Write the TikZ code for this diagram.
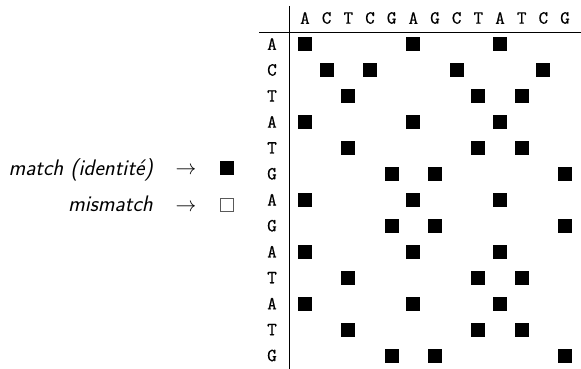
\documentclass[tikz,border=0pt]{standalone}
\usepackage{fontspec}
\newfontfamily\seqfont{Latin Modern Mono}[FakeBold=0.6]
\begin{document}
\begin{tikzpicture}[x=1pt,y=-1pt,
  seq/.style={font=\fontsize{18.5}{20}\selectfont\seqfont, inner sep=0pt},
  hit/.style={fill=black, minimum size=14pt, inner sep=0pt},
  nohit/.style={draw=black!65, line width=0.9pt, minimum size=13pt, inner sep=0pt},
  legendtext/.style={font=\fontsize{22.5}{25}\selectfont\sffamily\itshape, inner sep=0pt, anchor=base east},
  legendarrow/.style={font=\fontsize{20.7}{25}\selectfont, inner sep=0pt, anchor=base},
  rule/.style={line width=0.8pt}]
\useasboundingbox (0,0) rectangle (581,369);
% header sequence
\foreach \b [count=\i] in {A,C,T,C,G,A,G,C,T,A,T,C,G}
  \node[seq] (h\i) at ({305+(\i-1)*21.67},18) {\b};
% row sequence
\foreach \b [count=\i] in {A,C,T,A,T,G,A,G,A,T,A,T,G}
  \node[seq] (r\i) at (272,{44+(\i-1)*25.96}) {\b};
% separators
\coordinate (vt) at (289.5,6);
\coordinate (vb) at (289.5,369);
\coordinate (hl) at (259,32.5);
\coordinate (hr) at (581,32.5);
\draw[rule] (vt) -- (vb);
\draw[rule] (hl) -- (hr);
% matches
\foreach \r/\cs in {1/{1,6,10},2/{2,4,8,12},3/{3,9,11},4/{1,6,10},5/{3,9,11},6/{5,7,13},7/{1,6,10},8/{5,7,13},9/{1,6,10},10/{3,9,11},11/{1,6,10},12/{3,9,11},13/{5,7,13}}
  \foreach \c in \cs
    \node[hit] (m-\r-\c) at ({305+(\c-1)*21.67},{44+(\r-1)*25.96}) {};
% legend
\node[legendtext] (t1) at (153,175.5) {match (identité)};
\node[legendtext] (t2) at (153,211.5) {mismatch};
\node[legendarrow] (a1) at (186,174.5) {$\rightarrow$};
\node[legendarrow] (a2) at (186,211) {$\rightarrow$};
\node[hit] (s1) at (227,168) {};
\node[nohit] (s2) at (227,204.5) {};
\end{tikzpicture}
\end{document}
